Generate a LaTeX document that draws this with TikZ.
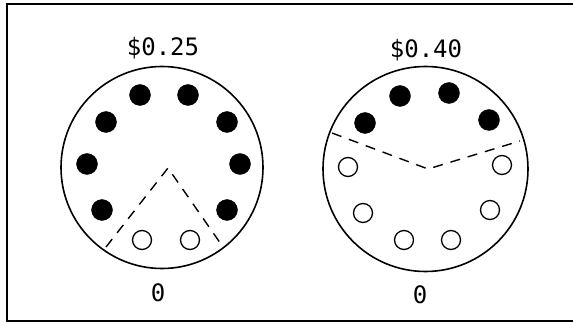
\documentclass[tikz,border=0pt]{standalone}
\usepackage{fontspec}
\newfontfamily\typefont{DejaVu Sans Mono}
\begin{document}
\begin{tikzpicture}[x=1pt,y=-1pt,
  frameline/.style={line width=1.8pt},
  dial/.style={line width=1.6pt},
  full/.style={circle,fill=black,draw=black,minimum size=21pt,inner sep=0pt},
  empty/.style={circle,fill=white,draw=black,line width=1.3pt,minimum size=19pt,inner sep=0pt},
  sector/.style={dashed,line width=1.4pt,dash pattern=on 10pt off 8pt},
  lbl/.style={font=\typefont\fontsize{24pt}{26pt}\selectfont,inner sep=0pt}]
\useasboundingbox[clip] (0,0) rectangle (573,323);
\fill[white] (0,0) rectangle (573,323);
\draw[frameline] (590,4) -- (7,4) -- (7,321) -- (590,321);
% left dial
\node[dial,draw,circle,minimum size=202pt,inner sep=0pt] (dA) at (162,167.5) {};
\node[lbl] (tA) at (163,48) {\$0.25};
\node[lbl] (bA) at (158,293) {0};
\node[full] (a1) at (140,95) {};
\node[full] (a2) at (188,95) {};
\node[full] (a3) at (106,122) {};
\node[full] (a4) at (227,122) {};
\node[full] (a5) at (87,164) {};
\node[full] (a6) at (240,164) {};
\node[full] (a7) at (102,210) {};
\node[full] (a8) at (227,210) {};
\node[empty] (a9) at (142,240) {};
\node[empty] (a10) at (190,240) {};
\coordinate (pA1) at (106,247);
\coordinate (cA) at (168,168);
\coordinate (pA2) at (223,247);
\draw[sector] (pA1) -- (cA) -- (pA2);
% right dial
\node[dial,draw,circle,minimum size=205pt,inner sep=0pt] (dB) at (425.5,169) {};
\node[lbl] (tB) at (426,50) {\$0.40};
\node[lbl] (bB) at (420,295) {0};
\node[full] (b1) at (400,96) {};
\node[full] (b2) at (449,93) {};
\node[full] (b3) at (365,123) {};
\node[full] (b4) at (489,120) {};
\node[empty] (b5) at (348,167) {};
\node[empty] (b6) at (502,165) {};
\node[empty] (b7) at (363,213) {};
\node[empty] (b8) at (490,210) {};
\node[empty] (b9) at (404,240) {};
\node[empty] (b10) at (451,240) {};
\coordinate (pB1) at (332,133);
\coordinate (cB) at (428,169);
\coordinate (pB2) at (520,141);
\draw[sector] (pB1) -- (cB) -- (pB2);
\end{tikzpicture}
\end{document}
